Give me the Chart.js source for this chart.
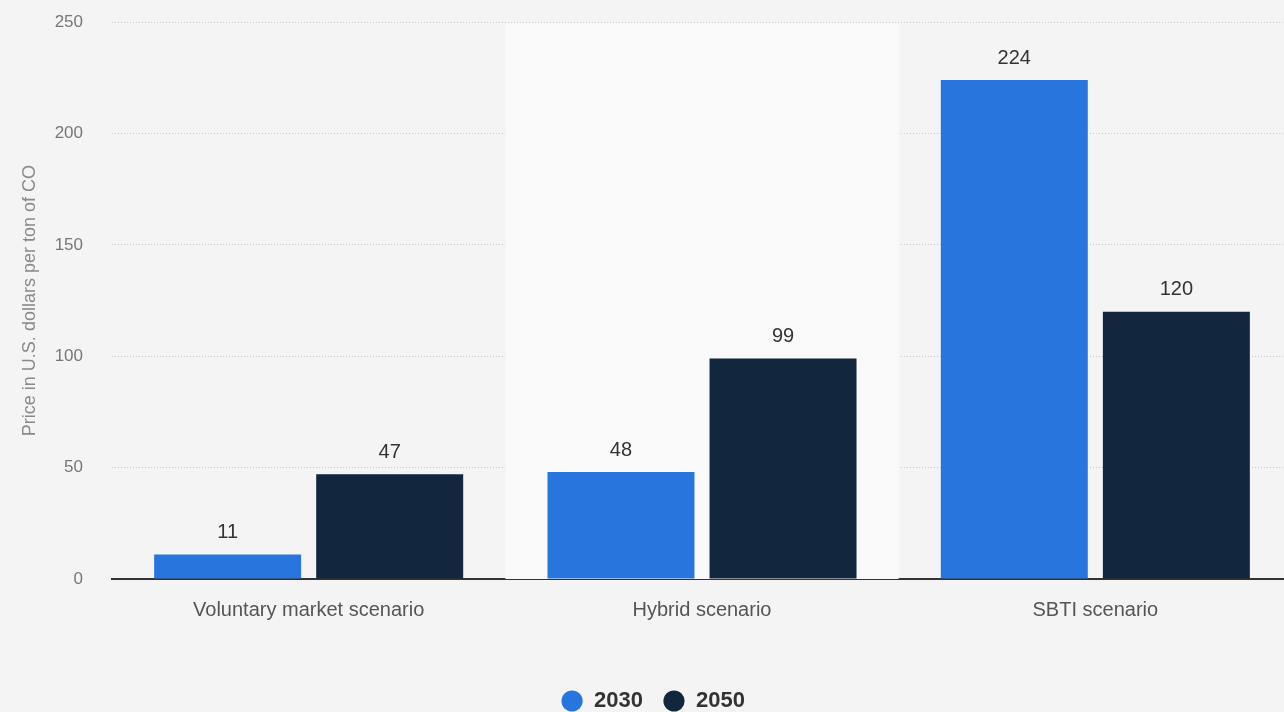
<!DOCTYPE html>
<html>
<head>
<meta charset="utf-8">
<script src="https://cdn.jsdelivr.net/npm/chart.js@4.4.0/dist/chart.umd.min.js"></script>
<style>
    body { margin: 0; background: #f4f4f4; overflow: hidden; }
    #wrap { width: 1292px; height: 739px; margin-top: -17px; }
</style>
</head>
<body>
<div id="wrap"><canvas id="myChart"></canvas></div>
<script>
// categorias e valores
var categorias = ['Voluntary market scenario', 'Hybrid scenario', 'SBTI scenario'];
var anos = ['2030', '2050'];
var valores2030 = [11, 48, 224];
var valores2050 = [47, 99, 120];
var ticksY = [0, 50, 100, 150, 200, 250];

// faixa clara atras da categoria do meio
const faixaMeio = {
    id: 'faixaMeio',
    beforeDatasetsDraw(chart) {
        const ctx = chart.ctx;
        const x = chart.scales.x;
        const area = chart.chartArea;
        const w = x.width / categorias.length;
        const c = x.getPixelForValue(1);
        ctx.save();
        ctx.fillStyle = '#f9f9f9';
        ctx.fillRect(c - w / 2, area.top + 1, w, area.bottom - area.top - 1);
        ctx.restore();
    }
};

// rotulos em cima das barras
const rotulos = {
    id: 'rotulos',
    afterDatasetsDraw(chart) {
        const ctx = chart.ctx;
        ctx.save();
        ctx.font = '20px "Liberation Sans", Arial, sans-serif';
        ctx.fillStyle = '#333';
        ctx.textAlign = 'center';
        ctx.textBaseline = 'middle';
        chart.data.datasets.forEach(function (ds, i) {
            chart.getDatasetMeta(i).data.forEach(function (bar, j) {
                ctx.fillText(ds.data[j], bar.x, bar.y - 22);
            });
        });
        ctx.restore();
    }
};

Chart.defaults.font.family = '"Liberation Sans", Arial, sans-serif';

const ctx = document.getElementById('myChart');
new Chart(ctx, {
    type: 'bar',
    data: {
        labels: categorias,
        datasets: [{
            label: anos[0],
            data: valores2030,
            backgroundColor: '#2876dd',
            categoryPercentage: 0.824,
            barPercentage: 0.907
        },
        {
            label: anos[1],
            data: valores2050,
            backgroundColor: '#12263d',
            categoryPercentage: 0.824,
            barPercentage: 0.907
        }]
    },
    plugins: [faixaMeio, rotulos],
    options: {
        responsive: true,
        maintainAspectRatio: false,
        animation: false,
        layout: { padding: { top: 4, right: 0, left: 14, bottom: 0 } },
        scales: {
            x: {
                grid: { display: false },
                border: { display: true, color: '#333', width: 2 },
                ticks: {
                    color: '#555',
                    font: { size: 20 },
                    padding: 11
                },
                afterFit: function (scale) { scale.height = 91; }
            },
            y: {
                min: 0,
                max: 250,
                afterBuildTicks: function (scale) {
                    scale.ticks = ticksY.map(function (v) { return { value: v }; });
                },
                grid: { color: '#c8c8c8', drawTicks: false, lineWidth: 1 },
                border: { display: false, dash: [1, 2] },
                ticks: {
                    color: '#777',
                    font: { size: 17 },
                    padding: 29
                },
                title: {
                    display: true,
                    text: 'Price in U.S. dollars per ton of CO',
                    color: '#8a8a8a',
                    font: { size: 18 },
                    padding: { top: 5, bottom: 0 }
                },
                afterFit: function (scale) { scale.width = 98; }
            }
        },
        plugins: {
            legend: {
                position: 'bottom',
                labels: {
                    usePointStyle: true,
                    pointStyle: 'circle',
                    boxWidth: 33,
                    boxHeight: 15,
                    color: '#333',
                    font: { size: 22, weight: 'bold' },
                    padding: 20
                }
            },
            tooltip: { enabled: false }
        }
    }
});
</script>
</body>
</html>
